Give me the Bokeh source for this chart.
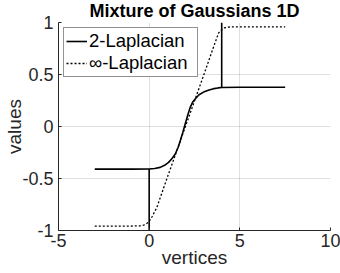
from bokeh.plotting import figure
from bokeh.models import Range1d, FixedTicker, Legend
from bokeh.embed import file_html
from bokeh.resources import INLINE

# ---- data ----
lap2_x = [-3.0, -2.0, -1.0, 0.0, 0.3, 0.61, 0.85, 1.07, 1.25, 1.44, 1.6, 1.72, 1.85, 1.99, 2.13, 2.27, 2.4, 2.55, 2.75, 3.0, 3.3, 3.56, 3.8, 4.0, 5.0, 6.0, 7.5]
lap2_y = [-0.41, -0.41, -0.41, -0.409, -0.404, -0.393, -0.373, -0.345, -0.31, -0.264, -0.2, -0.135, -0.06, 0.026, 0.11, 0.187, 0.235, 0.267, 0.305, 0.331, 0.35, 0.364, 0.371, 0.375, 0.378, 0.378, 0.378]

lapinf_x = [-3.0, -2.0, -1.0, -0.5, -0.3, -0.15, 0.0, 0.15, 0.3, 0.42, 1.0, 2.0, 3.0, 3.5, 3.83, 4.0, 4.15, 4.3, 4.6, 5.0, 6.0, 7.5]
lapinf_y = [-0.957, -0.957, -0.957, -0.955, -0.948, -0.935, -0.912, -0.87, -0.82, -0.78, -0.49, 0.0, 0.49, 0.74, 0.9, 0.93, 0.948, 0.955, 0.958, 0.958, 0.958, 0.958]

stem_x = [0.0, 4.0]
stem_y0 = [-1.0, 0.375]
stem_y1 = [-0.409, 1.0]

x_ticks = [-5, 0, 5, 10]
x_tick_labels = ["-5", "0", "5", "10"]
y_ticks = [-1, -0.5, 0, 0.5, 1]
y_tick_labels = ["-1", "-0.5", "0", "0.5", "1"]

title_text = "Mixture of Gaussians 1D"
xlabel = "vertices"
ylabel = "values"
series_names = ["2-Laplacian", "\u221e-Laplacian"]

# ---- layout ----
W, H = 340, 273
BL, BR, BT, BB = 58, 10, 22, 43
XMIN, XMAX, YMIN, YMAX = -5, 10, -1, 1

FONT = "Liberation Sans"
INK = "#262626"

p = figure(width=W, height=H, output_backend="svg", toolbar_location=None,
           x_range=Range1d(XMIN, XMAX), y_range=Range1d(YMIN, YMAX),
           min_border_left=BL, min_border_right=BR, min_border_top=BT, min_border_bottom=BB)
p.outline_line_color = None
p.background_fill_color = "white"
p.border_fill_color = "white"

p.title.text = title_text
p.title.align = "center"
p.title.vertical_align = "top"
p.title.text_font = FONT
p.title.text_font_size = "18px"
p.title.text_font_style = "bold"
p.title.text_color = "black"
p.title.standoff = 0
p.title.offset = 0

for ax in (p.xaxis[0], p.yaxis[0]):
    ax.axis_line_color = INK
    ax.axis_line_width = 1
    ax.major_tick_line_color = INK
    ax.major_tick_in = 3
    ax.major_tick_out = 0
    ax.minor_tick_line_color = None
    ax.major_label_text_font = FONT
    ax.major_label_text_font_size = "18px"
    ax.major_label_text_color = INK
    ax.axis_label_text_font = FONT
    ax.axis_label_text_font_size = "19px"
    ax.axis_label_text_font_style = "normal"
    ax.axis_label_text_color = INK

p.xaxis.axis_label = xlabel
p.yaxis.axis_label = ylabel
p.xaxis.ticker = FixedTicker(ticks=x_ticks)
p.yaxis.ticker = FixedTicker(ticks=y_ticks)
p.xaxis.major_label_overrides = {t: l for t, l in zip(x_ticks, x_tick_labels)}
p.yaxis.major_label_overrides = {t: l for t, l in zip(y_ticks, y_tick_labels)}
p.xaxis.major_label_standoff = 3
p.yaxis.major_label_standoff = 5
p.xaxis.axis_label_standoff = -3
p.yaxis.axis_label_standoff = -6

p.grid.grid_line_color = INK
p.grid.grid_line_alpha = 0.15
p.grid.grid_line_width = 1

r2 = p.line(lap2_x, lap2_y, line_color="black", line_width=1.6)
rinf = p.line(lapinf_x, lapinf_y, line_color="black", line_width=1.3, line_dash="2 2")
p.segment(x0=stem_x, y0=stem_y0, x1=stem_x, y1=stem_y1, line_color="black", line_width=1.6)

legend = Legend(items=[(series_names[0], [r2]), (series_names[1], [rinf])],
                location="top_left", margin=5, padding=2, spacing=0,
                label_height=18, glyph_height=18, glyph_width=21, label_standoff=2,
                label_width=106, label_text_font=FONT, label_text_font_size="18.5px",
                label_text_color="black", border_line_color=INK, border_line_width=1,
                background_fill_color="white", background_fill_alpha=1)
p.add_layout(legend)

open("out.html", "w").write(file_html(p, INLINE))
